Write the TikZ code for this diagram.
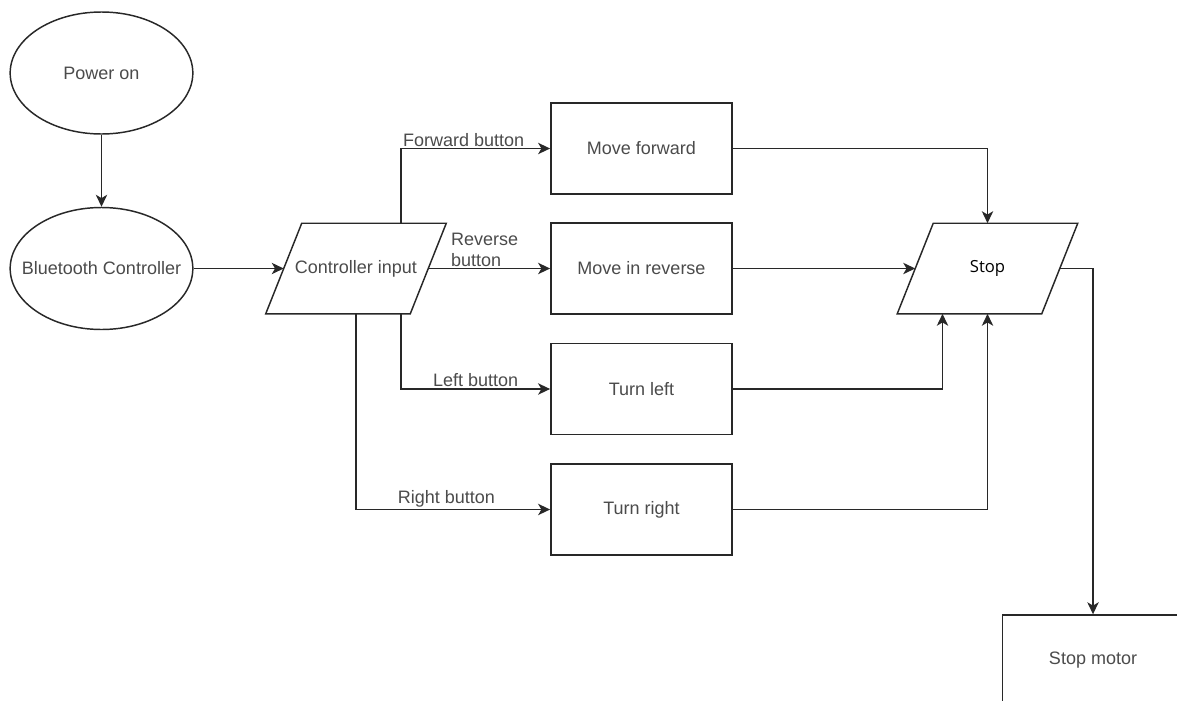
\documentclass[tikz,border=0pt]{standalone}
\usepackage{fontspec}
\setmainfont{Liberation Sans}
\newfontfamily\stopfont{Open Sans}
\usepackage{tikz}
\usetikzlibrary{positioning, shapes.geometric, calc, arrows.meta}
\definecolor{fcLine}{RGB}{40, 40, 40}
\definecolor{fcText}{RGB}{75, 75, 75}
\tikzset{
    base/.style={
        font=\fontsize{13.5}{15.75}\selectfont,
        text=fcText,
        align=center
    },
    terminal/.style={
        base,
        ellipse,
        draw=fcLine,
        line width=1.1pt,
        fill=white,
        inner sep=0pt,
        minimum width=137pt,
        minimum height=91.5pt
    },
    io/.style={
        base,
        rectangle,
        inner sep=0pt,
        minimum width=108pt,
        minimum height=67.5pt,
        append after command={
            \pgfextra{
                \draw[fcLine, line width=1.1pt, line join=miter]
                    ($(\tikzlastnode.south west)+(-13.5pt,0)$) --
                    ($(\tikzlastnode.north west)+(13.5pt,0)$) --
                    ($(\tikzlastnode.north east)+(13.5pt,0)$) --
                    ($(\tikzlastnode.south east)+(-13.5pt,0)$) -- cycle;
            }
        }
    },
    process/.style={
        base,
        rectangle,
        draw=fcLine,
        line width=1.1pt,
        fill=white,
        inner sep=0pt,
        minimum width=136pt,
        minimum height=68.25pt
    },
    flow/.style={
        -{Stealth[length=9pt, width=8.5pt, inset=2.5pt]},
        line width=1.1pt,
        color=fcLine
    },
    btnlabel/.style={
        base,
        inner sep=1pt
    }
}

\begin{document}
\begin{tikzpicture}[x=0.75pt, y=-0.75pt]
    \useasboundingbox (0,0) rectangle (1177,700);
    \clip (0,0) rectangle (1177,700);

    % Start and input
    \node[terminal] (power) at (101.5,73) {Power on};
    \node[terminal] (bt) at (101.5,268.5) {\makebox[0pt]{Bluetooth Controller}};
    \node[io] (input) at (356,268.5) {Controller input};

    % Actions
    \node[process] (fwd) at (641.5,148.5) {Move forward};
    \node[process] (rev) at (641.5,268.5) {Move in reverse};
    \node[process] (left) at (641.5,389) {Turn left};
    \node[process] (right) at (641.5,509.5) {Turn right};

    % Stop
    \node[io, font=\stopfont\fontsize{12.5}{15}\selectfont, text=black] (stop) at (987.5,268.5) {Stop};
    \node[process] (motor) at (1093,660.5) {Stop motor};

    % Connectors
    \draw[flow] (power) -- (bt);
    \draw[flow] (bt.east) -- (input.west);

    \draw[flow] ($(input.center |- input.north)+(45,0)$) |- (fwd.west)
        node[btnlabel, pos=0.5, anchor=south west] {Forward button};
    \draw[flow] (input.east) -- (rev.west)
        node[btnlabel, pos=0.17, anchor=south west, align=left] {Reverse\\button};
    \draw[flow] ($(input.center |- input.south)+(45,0)$) |- (left.west)
        node[btnlabel, pos=0.75, above] {Left button};
    \draw[flow] (input.center |- input.south) |- (right.west)
        node[btnlabel, pos=0.75, above, xshift=-5pt] {Right button};

    \draw[flow] (fwd.east) -| (stop.center |- stop.north);
    \draw[flow] (rev.east) -- (stop.west);
    \draw[flow] (left.east) -| ($(stop.center |- stop.south)+(-45,0)$);
    \draw[flow] (right.east) -| (stop.center |- stop.south);
    \draw[flow] (stop.east) -| (motor.north);

\end{tikzpicture}
\end{document}
